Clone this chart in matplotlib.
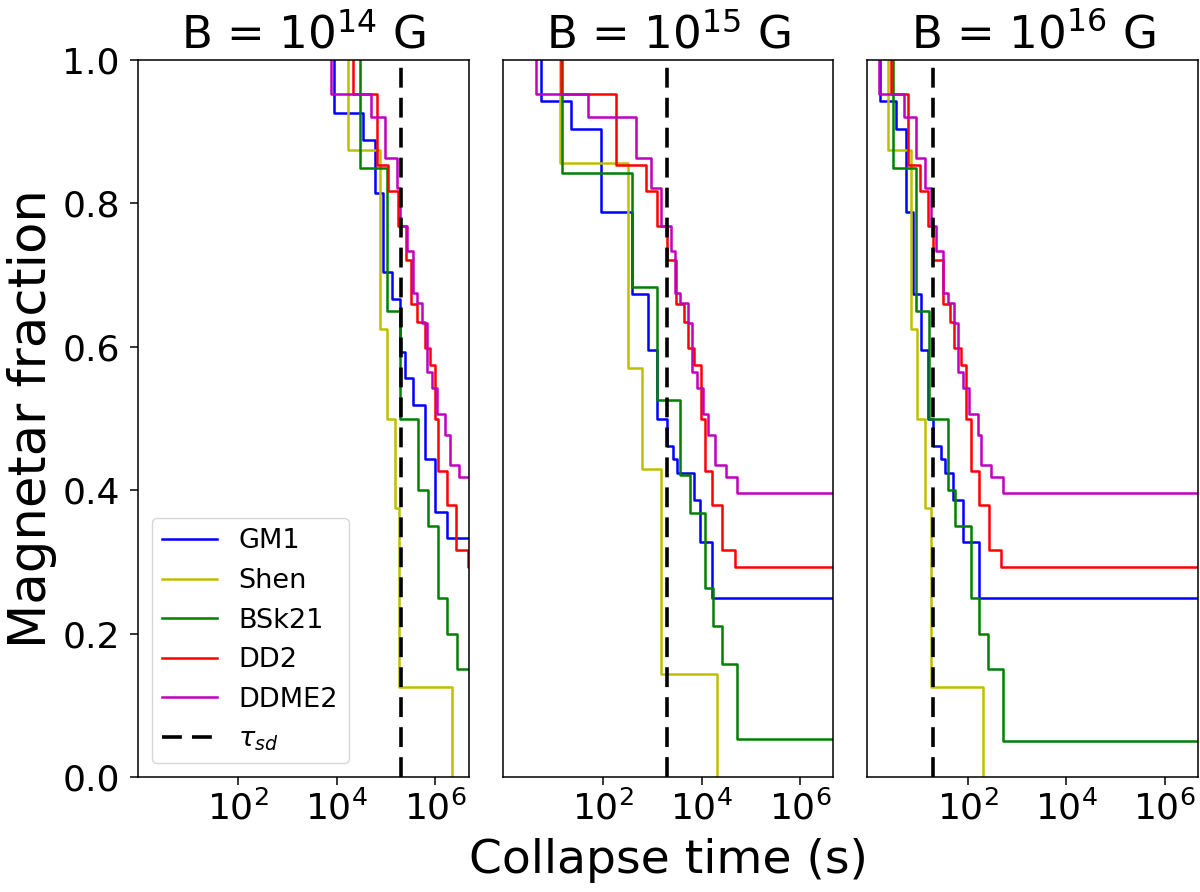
import matplotlib
matplotlib.use('Agg')
import matplotlib.pyplot as plt
from matplotlib.ticker import NullLocator

# field strengths of the three panels
b_exp = [14, 15, 16]
tau_sd = [2.0e5, 2.0e3, 20.0]

# collapse times (s) and remaining magnetar fraction after each collapse, per panel
gm1_t = [[8.9e3, 3.45e4, 5.97e4, 8.8e4, 1.30e5, 1.92e5, 2.43e5, 3.47e5, 6.18e5, 9.87e5, 1.71e6],
         [5.4, 22, 90, 383, 820, 1.27e3, 1.96e3, 2.57e3, 3.24e3, 6.9e3, 9.3e3, 1.66e4],
         [1.67, 3.53, 5.46, 7.8, 11, 15.6, 19.6, 29, 34.9, 50, 80, 166]]
gm1_f = [[0.926, 0.889, 0.815, 0.704, 0.667, 0.593, 0.556, 0.519, 0.444, 0.370, 0.333],
         [0.943, 0.904, 0.788, 0.674, 0.596, 0.5, 0.461, 0.443, 0.424, 0.386, 0.328, 0.25],
         [0.943, 0.904, 0.788, 0.674, 0.596, 0.5, 0.461, 0.443, 0.424, 0.386, 0.328, 0.25]]

shen_t = [[1.66e4, 7.5e4, 1.06e5, 1.52e5, 1.86e5, 2.21e6],
          [13.4, 328, 631, 1.49e3, 2.1e4],
          [2.4, 7.1, 9.4, 13.3, 18.2, 204]]
shen_f = [[0.875, 0.625, 0.5, 0.375, 0.125, 0.0],
          [0.857, 0.571, 0.429, 0.143, 0.0],
          [0.875, 0.625, 0.5, 0.375, 0.125, 0.0]]

bsk21_t = [[2.96e4, 1.06e5, 1.92e5, 4.52e5, 7.2e5, 1.15e6, 1.75e6, 2.8e6],
           [15, 378, 1.27e3, 3.66e3, 5.85e3, 1.16e4, 1.71e4, 2.65e4, 5.36e4],
           [3.1, 9.0, 16, 39.6, 55.7, 114, 166, 257, 519]]
bsk21_f = [[0.85, 0.65, 0.5, 0.4, 0.35, 0.25, 0.2, 0.15],
           [0.842, 0.684, 0.526, 0.421, 0.368, 0.263, 0.211, 0.158, 0.053],
           [0.85, 0.65, 0.5, 0.4, 0.35, 0.25, 0.2, 0.15, 0.05]]

dd2_t = [[2.1e4, 6.6e4, 1.10e5, 1.75e5, 2.54e5, 3.16e5, 4.19e5, 6.18e5, 7.8e5, 9.87e5, 1.15e6, 1.75e6, 2.63e6, 4.68e6],
         [14.3, 181, 736, 1.27e3, 2.03e3, 2.99e3, 4.3e3, 5.42e3, 7.05e3, 9.6e3, 1.16e4, 1.66e4, 2.65e4, 4.72e4],
         [2.8, 6.1, 10.9, 15.6, 19.6, 31.3, 42.7, 52.5, 73.8, 93, 114, 166, 264, 463]]
dd2_f = [[0.953, 0.854, 0.818, 0.768, 0.721, 0.66, 0.634, 0.598, 0.575, 0.5, 0.427, 0.379, 0.317, 0.293],
         [0.953, 0.854, 0.818, 0.768, 0.721, 0.66, 0.634, 0.598, 0.575, 0.5, 0.427, 0.379, 0.317, 0.293],
         [0.953, 0.854, 0.818, 0.768, 0.721, 0.66, 0.634, 0.598, 0.575, 0.5, 0.427, 0.379, 0.317, 0.293]]

ddme2_t = [[7.5e3, 4.88e4, 9.5e4, 1.64e5, 1.92e5, 2.7e5, 3.57e5, 4.19e5, 5.3e5, 6.9e5, 8.45e5, 1.07e6, 1.57e6, 1.99e6, 3.07e6],
           [4.3, 49.5, 461, 931, 1.49e3, 2.37e3, 2.92e3, 3.66e3, 5.32e3, 6.53e3, 8.26e3, 1.09e4, 1.32e4, 1.85e4, 3.1e4, 5.36e4],
           [1.57, 5.07, 9.0, 13.3, 18.2, 22.9, 31.3, 39.6, 52.5, 63.2, 80, 104, 161, 182, 300, 519]]
ddme2_f = [[0.952, 0.920, 0.863, 0.821, 0.768, 0.734, 0.675, 0.661, 0.633, 0.565, 0.542, 0.507, 0.477, 0.435, 0.419],
           [0.952, 0.920, 0.863, 0.821, 0.768, 0.734, 0.675, 0.661, 0.633, 0.565, 0.542, 0.507, 0.477, 0.435, 0.419, 0.396],
           [0.952, 0.920, 0.863, 0.821, 0.768, 0.734, 0.675, 0.661, 0.633, 0.565, 0.542, 0.507, 0.477, 0.435, 0.419, 0.396]]

eos_names = ['GM1', 'Shen', 'BSk21', 'DD2', 'DDME2']
eos_colors = ['b', 'y', 'g', 'r', 'm']
eos_t = [gm1_t, shen_t, bsk21_t, dd2_t, ddme2_t]
eos_f = [gm1_f, shen_f, bsk21_f, dd2_f, ddme2_f]

xmin, xmax = 10**-0.037, 10**6.678

fig, axes = plt.subplots(1, 3, figsize=(12, 8.92), dpi=100, sharey=True)
fig.subplots_adjust(left=0.115, right=0.9985, bottom=0.1289, top=0.9327, wspace=0.1027)

for i, ax in enumerate(axes):
    for name, col, tt, ff in zip(eos_names, eos_colors, eos_t, eos_f):
        t = list(tt[i])
        f = list(ff[i])
        xs = [t[0]] + t
        ys = [1.0] + f
        if f[-1] > 0:
            xs.append(xmax)
            ys.append(f[-1])
        ax.plot(xs, ys, drawstyle='steps-post', color=col, lw=1.8, label=name)
    ax.axvline(tau_sd[i], color='k', lw=2.6, ls=(0, (5.5, 2.8)), label=r'$\tau_{sd}$')

    ax.set_xscale('log')
    ax.set_xlim(xmin, xmax)
    ax.set_ylim(0, 1)
    ax.set_xticks([1e2, 1e4, 1e6])
    ax.xaxis.set_minor_locator(NullLocator())
    ax.tick_params(labelsize=26, length=6, width=1.1)
    ax.tick_params(axis='y', pad=7)
    for s in ax.spines.values():
        s.set_linewidth(1.1)
    ax.set_title(r'B = $10^{%d}$ G' % b_exp[i], fontsize=32.5, pad=8)
    if i > 0:
        ax.tick_params(axis='y', left=False, labelleft=False)

axes[0].set_ylabel('Magnetar fraction', fontsize=37, labelpad=4)
axes[1].set_xlabel('Collapse time (s)', fontsize=34, labelpad=8)
axes[0].legend(loc='lower left', fontsize=19.5)

fig.savefig('out.png', dpi=100)
